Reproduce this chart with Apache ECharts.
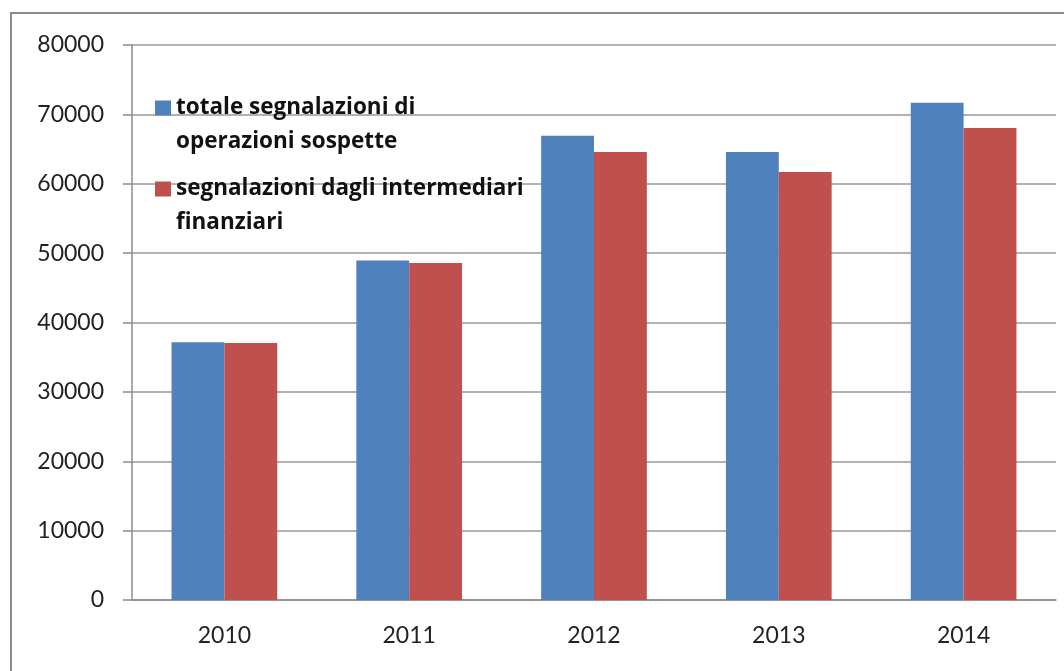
<!DOCTYPE html>
<html lang="it">
<head>
    <meta charset="UTF-8">
    <title>Segnalazioni</title>
    <script src="https://cdn.jsdelivr.net/npm/echarts@6/dist/echarts.min.js"></script>
</head>
<body style="margin:0;background:#fff">
<div id="chart" style="width:1064px;height:671px"></div>
<script>
    var anni = ['2010', '2011', '2012', '2013', '2014'];
    var totale = [37170, 48940, 66930, 64570, 71690];
    var intermediari = [37030, 48560, 64570, 61690, 68030];
    var nomeTotale = 'totale segnalazioni di\noperazioni sospette';
    var nomeIntermediari = 'segnalazioni dagli intermediari\nfinanziari';

    var chart = echarts.init(document.getElementById('chart'));

    // legend text: leading blank line keeps the square level with the first line
    var legendText = {
        fontFamily: 'Open Sans',
        fontWeight: 'bold',
        fontSize: 22.5,
        lineHeight: 34,
        color: '#111'
    };

    var option = {
        animation: false,
        textStyle: {fontFamily: 'Lato'},
        graphic: [{
            type: 'rect',
            shape: {x: 11, y: 13, width: 1100, height: 700},
            style: {fill: 'none', stroke: '#8a8a8a', lineWidth: 2},
            silent: true
        }],
        legend: [{
            data: [nomeTotale],
            orient: 'vertical',
            left: 155,
            top: 57,
            padding: 0,
            itemWidth: 16,
            itemHeight: 15,
            itemGap: 6,
            icon: 'rect',
            formatter: function (n) { return '\n' + n; },
            textStyle: legendText
        }, {
            data: [nomeIntermediari],
            orient: 'vertical',
            left: 155,
            top: 138,
            padding: 0,
            itemWidth: 16,
            itemHeight: 15,
            itemGap: 6,
            icon: 'rect',
            formatter: function (n) { return '\n' + n; },
            textStyle: legendText
        }],
        grid: {left: 132, right: 8, top: 45, bottom: 71},
        xAxis: {
            type: 'category',
            data: anni,
            axisLine: {lineStyle: {color: '#8c8c8c', width: 1.5}},
            axisTick: {length: 9, lineStyle: {color: '#8c8c8c', width: 1.5}},
            axisLabel: {color: '#222', fontSize: 23, margin: 24}
        },
        yAxis: {
            type: 'value',
            min: 0,
            max: 80000,
            interval: 10000,
            axisLine: {show: true, lineStyle: {color: '#8c8c8c', width: 1.5}},
            axisTick: {show: true, length: 9, lineStyle: {color: '#8c8c8c', width: 1.5}},
            axisLabel: {color: '#222', fontSize: 23, margin: 28, formatter: function (v) { return String(v); }},
            splitLine: {lineStyle: {color: '#999', width: 1.5}}
        },
        series: [{
            name: nomeTotale,
            type: 'bar',
            data: totale,
            barWidth: '28.6%',
            barGap: '0%',
            itemStyle: {color: '#4f81bd'}
        }, {
            name: nomeIntermediari,
            type: 'bar',
            data: intermediari,
            barWidth: '28.6%',
            itemStyle: {color: '#c0504d'}
        }]
    };
    chart.setOption(option);
</script>
</body>
</html>
